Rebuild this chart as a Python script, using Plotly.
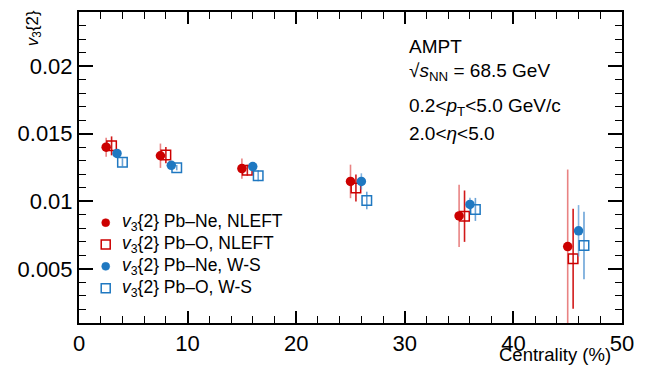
import plotly.graph_objects as go

# Data (centrality %, v3{2}, error)
x_ne_nleft = [2.5, 7.5, 15.0, 25.0, 35.0, 45.0]
y_ne_nleft = [0.0140, 0.01337, 0.01242, 0.01147, 0.00892, 0.00665]
e_ne_nleft = [0.0007, 0.0009, 0.00075, 0.00124, 0.0023, 0.0057]

x_o_nleft = [3.0, 8.0, 15.5, 25.5, 35.5, 45.5]
y_o_nleft = [0.0141, 0.01342, 0.0123, 0.01098, 0.0089, 0.00575]
e_o_nleft = [0.0007, 0.0006, 0.0004, 0.0010, 0.0019, 0.0037]

x_ne_ws = [3.5, 8.5, 16.0, 26.0, 36.0, 46.0]
y_ne_ws = [0.01354, 0.01266, 0.01257, 0.01147, 0.00977, 0.00782]
e_ne_ws = [0.0003, 0.0002, 0.0003, 0.0006, 0.0005, 0.0019]

x_o_ws = [4.0, 9.0, 16.5, 26.5, 36.5, 46.5]
y_o_ws = [0.01288, 0.01249, 0.01189, 0.01006, 0.0094, 0.00673]
e_o_ws = [0.0003, 0.0002, 0.0004, 0.00065, 0.00085, 0.0025]

names = ["<i>v</i><sub>3</sub>{2} Pb–Ne, NLEFT",
         "<i>v</i><sub>3</sub>{2} Pb–O, NLEFT",
         "<i>v</i><sub>3</sub>{2} Pb–Ne, W-S",
         "<i>v</i><sub>3</sub>{2} Pb–O, W-S"]

xtick_vals = [0, 10, 20, 30, 40, 50]
xtick_text = ["0", "10", "20", "30", "40", "50"]
ytick_vals = [0.005, 0.01, 0.015, 0.02]
ytick_text = ["0.005", "0.01", "0.015", "0.02"]

RED = "#cc0000"
BLUE = "#1f78c1"
FONT = "Liberation Sans, Arial, sans-serif"

fig = go.Figure()

def add(x, y, e, name, color, symbol, ecolor, size):
    fig.add_trace(go.Scatter(
        x=x, y=y, mode="markers", name=name, showlegend=False,
        marker=dict(color=color, symbol=symbol, size=size,
                    line=dict(color=color, width=1.5 if "open" in symbol else 0)),
        error_y=dict(type="data", array=e, visible=True, color=ecolor, thickness=1.6, width=0),
    ))

add(x_ne_nleft, y_ne_nleft, e_ne_nleft, names[0], RED, "circle", "rgba(225,90,90,0.75)", 9.5)
add(x_o_nleft, y_o_nleft, e_o_nleft, names[1], RED, "square-open", "rgba(204,0,0,0.9)", 9.5)
add(x_ne_ws, y_ne_ws, e_ne_ws, names[2], BLUE, "circle", "rgba(90,155,215,0.75)", 9.5)
add(x_o_ws, y_o_ws, e_o_ws, names[3], BLUE, "square-open", "rgba(70,140,205,0.8)", 9.5)

axis_common = dict(showgrid=False, zeroline=False, showline=True, linecolor="black",
                   linewidth=2, mirror="ticks", ticks="inside", tickcolor="black",
                   tickwidth=1.5, tickfont=dict(family=FONT, size=22, color="black"))

fig.update_xaxes(range=[0, 50], tickmode="array", tickvals=xtick_vals, ticktext=xtick_text, ticklen=12,
                 minor=dict(ticks="inside", dtick=2, ticklen=7, tickcolor="black", tickwidth=1.2),
                 **axis_common)
fig.update_yaxes(range=[0.001, 0.024], tickmode="array", tickvals=ytick_vals, ticktext=ytick_text, ticklen=14,
                 minor=dict(ticks="inside", dtick=0.001, ticklen=7, tickcolor="black", tickwidth=1.2),
                 **axis_common)

# Manual legend (symbols as pixel-sized shapes, labels as annotations)
leg_rows = [0.3227, 0.2524, 0.1821, 0.1118]
leg_sym_x = 0.0492
leg_txt_x = 0.0755
leg_styles = [(RED, "circle"), (RED, "square"), (BLUE, "circle"), (BLUE, "square")]
shapes = []
annotations = []
for (col, kind), yy, nm in zip(leg_styles, leg_rows, names):
    if kind == "circle":
        shapes.append(dict(type="circle", xref="paper", yref="paper", xsizemode="pixel", ysizemode="pixel",
                           xanchor=leg_sym_x, yanchor=yy, x0=-4, x1=4, y0=-4, y1=4,
                           fillcolor=col, line=dict(color=col, width=0.5)))
    else:
        shapes.append(dict(type="rect", xref="paper", yref="paper", xsizemode="pixel", ysizemode="pixel",
                           xanchor=leg_sym_x, yanchor=yy, x0=-4.5, x1=4.5, y0=-4.5, y1=4.5,
                           fillcolor="white", line=dict(color=col, width=1.5)))
    annotations.append(dict(text=nm, x=leg_txt_x, y=yy, xref="paper", yref="paper", xanchor="left",
                            yanchor="middle", showarrow=False,
                            font=dict(family=FONT, size=17.5, color="black")))

ann_font = dict(family=FONT, size=19, color="black")
annotations += [
    dict(text="AMPT", x=0.604, y=0.888, xref="paper", yref="paper", xanchor="left", yanchor="middle", showarrow=False, font=ann_font),
    dict(text="√<i>s</i><sub>NN</sub> = 68.5 GeV", x=0.604, y=0.806, xref="paper", yref="paper", xanchor="left", yanchor="middle", showarrow=False, font=ann_font),
    dict(text="0.2&lt;<i>p</i><sub>T</sub>&lt;5.0 GeV/c", x=0.604, y=0.696, xref="paper", yref="paper", xanchor="left", yanchor="middle", showarrow=False, font=ann_font),
    dict(text="2.0&lt;<i>η</i>&lt;5.0", x=0.604, y=0.610, xref="paper", yref="paper", xanchor="left", yanchor="middle", showarrow=False, font=ann_font),
    dict(text="<i>v</i><sub>3</sub>{2}", x=-0.084, y=0.949, xref="paper", yref="paper", xanchor="center", yanchor="middle", textangle=-90, showarrow=False, font=dict(family=FONT, size=17, color="black")),
    dict(text="Centrality (%)", x=0.983, y=-0.102, xref="paper", yref="paper", xanchor="right", yanchor="middle", showarrow=False, font=dict(family=FONT, size=18.5, color="black")),
]

fig.update_layout(
    width=651, height=369,
    margin=dict(l=79, r=29, t=10, b=46),
    paper_bgcolor="white", plot_bgcolor="white",
    font=dict(family=FONT, color="black"),
    showlegend=False,
    shapes=shapes,
    annotations=annotations,
)

fig.write_html("out.html")
